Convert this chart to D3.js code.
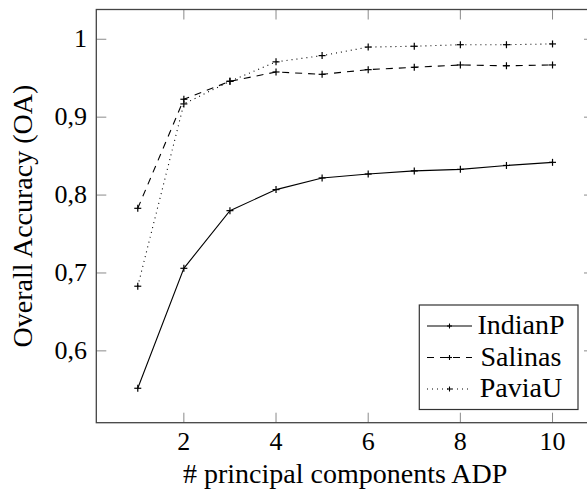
<!DOCTYPE html>
<html>
<head>
<meta charset="utf-8">
<script src="https://cdn.jsdelivr.net/npm/d3@7"></script>
</head>
<body style="margin:0">
<svg id="chart" width="587" height="494"></svg>
<script>
const components = [1, 2, 3, 4, 5, 6, 7, 8, 9, 10];
const indianP = [0.552, 0.706, 0.780, 0.807, 0.822, 0.827, 0.831, 0.833, 0.838, 0.842];
const salinas = [0.783, 0.923, 0.946, 0.958, 0.955, 0.961, 0.964, 0.967, 0.966, 0.967];
const paviaU = [0.683, 0.917, 0.946, 0.971, 0.979, 0.990, 0.991, 0.993, 0.993, 0.994];
const xTicks = [2, 4, 6, 8, 10];
const yTicks = [0.6, 0.7, 0.8, 0.9, 1.0];

const series = [
    { name: "IndianP", values: indianP, dash: null },
    { name: "Salinas", values: salinas, dash: "7,6" },
    { name: "PaviaU", values: paviaU, dash: "1,4" }
];

const FONT = "Liberation Serif";
const svg = d3.select("#chart");
const pLeft = 96.3, pRight = 594, pTop = 9.5, pBottom = 422.7;

// pgfplots style: enlarge limits by 10% of the data range
const xExt = d3.extent(components);
const xPad = (xExt[1] - xExt[0]) * 0.1;
const x = d3.scaleLinear().domain([xExt[0] - xPad, xExt[1] + xPad]).range([pLeft, pRight]);

const allY = indianP.concat(salinas, paviaU);
const yExt = d3.extent(allY);
const yPad = (yExt[1] - yExt[0]) * 0.1;
const y = d3.scaleLinear().domain([yExt[0] - yPad, yExt[1] + yPad]).range([pBottom, pTop]);

const fmt = v => (v === 1 ? "1" : d3.format(".1f")(v).replace(".", ","));

// ticks, drawn inside the frame on all four sides
const tickLen = 10;
const ticks = svg.append("g").attr("stroke", "#8a8a8a").attr("stroke-width", 1);
xTicks.forEach(t => {
    ticks.append("line").attr("x1", x(t)).attr("x2", x(t)).attr("y1", pBottom).attr("y2", pBottom - tickLen);
    ticks.append("line").attr("x1", x(t)).attr("x2", x(t)).attr("y1", pTop).attr("y2", pTop + tickLen);
});
yTicks.forEach(t => {
    ticks.append("line").attr("x1", pLeft).attr("x2", pLeft + tickLen).attr("y1", y(t)).attr("y2", y(t));
    ticks.append("line").attr("x1", pRight).attr("x2", pRight - tickLen).attr("y1", y(t)).attr("y2", y(t));
});

// frame
svg.append("rect")
    .attr("x", pLeft).attr("y", pTop)
    .attr("width", pRight - pLeft).attr("height", pBottom - pTop)
    .attr("fill", "none").attr("stroke", "#444").attr("stroke-width", 1.3);

// tick labels
svg.append("g").selectAll("text").data(xTicks).enter().append("text")
    .attr("x", d => x(d)).attr("y", 450)
    .attr("text-anchor", "middle")
    .attr("font-family", FONT).attr("font-size", 26)
    .text(d => d);

svg.append("g").selectAll("text").data(yTicks).enter().append("text")
    .attr("x", 87).attr("y", d => y(d) + 8)
    .attr("text-anchor", "end")
    .attr("font-family", FONT).attr("font-size", 26)
    .text(fmt);

// axis titles
svg.append("text")
    .attr("x", (pLeft + pRight) / 2).attr("y", 483)
    .attr("text-anchor", "middle")
    .attr("font-family", FONT).attr("font-size", 28)
    .text("# principal components ADP");

svg.append("text")
    .attr("transform", `translate(32,${(pTop + pBottom) / 2}) rotate(-90)`)
    .attr("text-anchor", "middle")
    .attr("font-family", FONT).attr("font-size", 28)
    .text("Overall Accuracy (OA)");

// lines and markers
const line = d3.line().x((d, i) => x(components[i])).y(d => y(d));
const plus = (g, cx, cy, r) => {
    g.append("line").attr("x1", cx - r).attr("x2", cx + r).attr("y1", cy).attr("y2", cy);
    g.append("line").attr("x1", cx).attr("x2", cx).attr("y1", cy - r).attr("y2", cy + r);
};

series.forEach(s => {
    svg.append("path")
        .datum(s.values)
        .attr("d", line)
        .attr("fill", "none").attr("stroke", "#000").attr("stroke-width", 1.1)
        .attr("stroke-dasharray", s.dash);
    const m = svg.append("g").attr("stroke", "#000").attr("stroke-width", 1.2);
    s.values.forEach((v, i) => plus(m, x(components[i]), y(v), 3.5));
});

// legend
const legend = svg.append("g");
legend.append("rect")
    .attr("x", 419.3).attr("y", 305).attr("width", 158.7).attr("height", 104.5)
    .attr("fill", "#fff").attr("stroke", "#333").attr("stroke-width", 1.2);
series.forEach((s, i) => {
    const ly = 326 + i * 31.5;
    legend.append("line")
        .attr("x1", 427).attr("x2", 472).attr("y1", ly).attr("y2", ly)
        .attr("stroke", "#000").attr("stroke-width", 1.1)
        .attr("stroke-dasharray", s.dash);
    const m = legend.append("g").attr("stroke", "#000").attr("stroke-width", 1.1);
    plus(m, 449.5, ly, 2.5);
    legend.append("text")
        .attr("x", 521).attr("y", ly + 8)
        .attr("text-anchor", "middle")
        .attr("font-family", FONT).attr("font-size", 28)
        .text(s.name);
});
</script>
</body>
</html>
